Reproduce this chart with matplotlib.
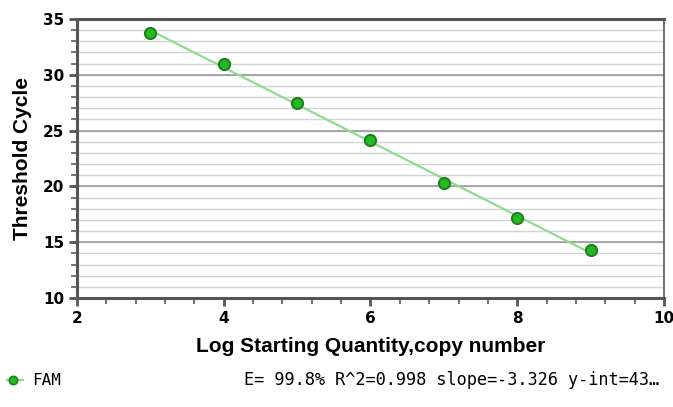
import numpy as np
import matplotlib
matplotlib.use("Agg")
import matplotlib.pyplot as plt
from matplotlib.ticker import MultipleLocator

# standard curve points
log_qty = [3, 4, 5, 6, 7, 8, 9]
ct = [33.75, 30.95, 27.45, 24.15, 20.3, 17.15, 14.3]

x_ticks = [2, 4, 6, 8, 10]
y_ticks = [10, 15, 20, 25, 30, 35]
fit_text = "E= 99.8% R^2=0.998 slope=-3.326 y-int=43\u2026"

fig = plt.figure(figsize=(6.73, 4.07), dpi=100)
ax = fig.add_axes([0.1144, 0.2678, 0.8722, 0.6855])

# horizontal grid
for v in np.arange(11, 35):
    ax.axhline(v, color="#d4d4d4", lw=1.0, zorder=0)
for v in y_ticks[1:-1]:
    ax.axhline(v, color="#9a9a9a", lw=1.2, zorder=0)

p = np.polyfit(log_qty, ct, 1)
xl = np.array([log_qty[0], log_qty[-1]])
ax.plot(xl, np.polyval(p, xl), color="#8fdc8f", lw=1.6, zorder=2)
ax.plot(log_qty, ct, "o", ms=8, mfc="#22bb22", mec="#1f7f1f", mew=1.5, zorder=3)

ax.set_xlim(2, 10)
ax.set_ylim(10, 35)
ax.set_xticks(x_ticks)
ax.set_yticks(y_ticks)
ax.xaxis.set_minor_locator(MultipleLocator(0.4))
ax.yaxis.set_minor_locator(MultipleLocator(1))
ax.tick_params(axis="both", which="major", length=6, width=2, color="#555555",
               labelsize=11, pad=3)
ax.tick_params(axis="both", which="minor", length=4, width=1.5, color="#777777")
for lab in ax.get_xticklabels() + ax.get_yticklabels():
    lab.set_fontweight("bold")

for s in ["left", "bottom", "top"]:
    ax.spines[s].set_linewidth(2.2)
    ax.spines[s].set_color("#555555")
ax.spines["right"].set_linewidth(1.2)
ax.spines["right"].set_color("#555555")

ax.set_xlabel("Log Starting Quantity,copy number", fontsize=15, fontweight="bold",
              family="Liberation Sans", labelpad=8)
ax.set_ylabel("Threshold Cycle", fontsize=15, fontweight="bold",
              family="Liberation Sans", labelpad=8)

# legend line under the chart
fig.add_artist(plt.Line2D([0.010, 0.034], [0.066, 0.066], color="#8fdc8f", lw=1.6,
                          transform=fig.transFigure))
fig.add_artist(plt.Line2D([0.020], [0.066], marker="o", ms=6, mfc="#22bb22",
                          mec="#1f7f1f", mew=1.2, transform=fig.transFigure))
fig.text(0.048, 0.066, "FAM", family="DejaVu Sans Mono", fontsize=11.5, va="center")
fig.text(0.362, 0.066, fit_text, family="DejaVu Sans Mono", fontsize=12.2, va="center")

fig.savefig("out.png", dpi=100)
